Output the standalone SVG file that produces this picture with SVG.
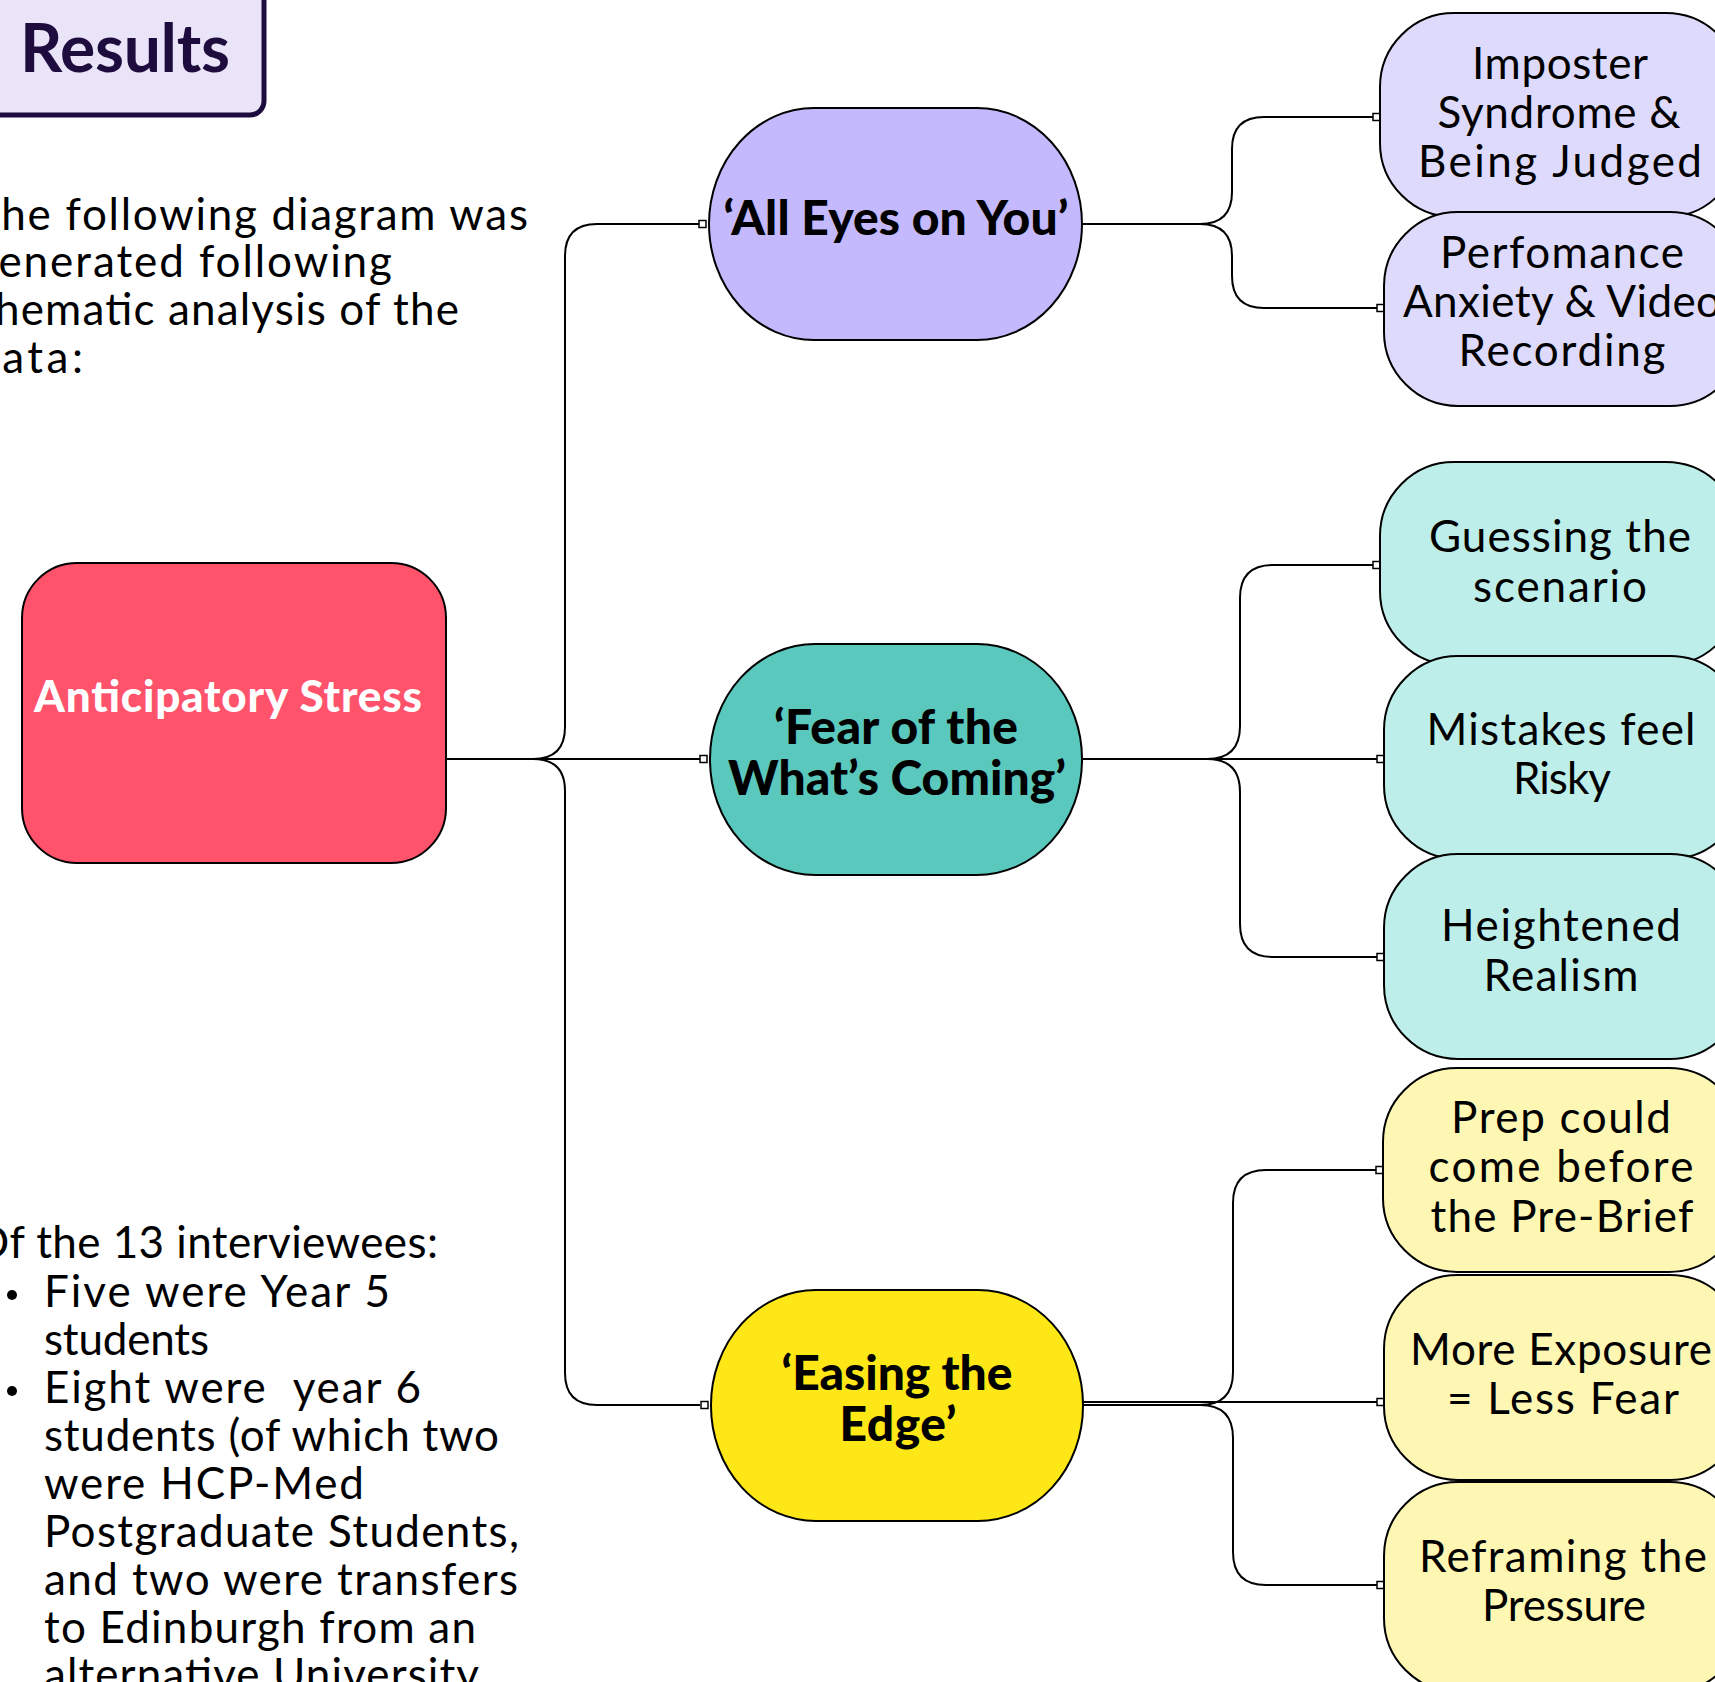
<svg xmlns="http://www.w3.org/2000/svg" width="1715" height="1682" viewBox="0 0 1715 1682">
<style>
  text { font-family: Lato, "Liberation Sans", sans-serif; fill: #000; }
  .body { font-size: 44px; white-space: pre; }
  .child { font-size: 44px; text-anchor: middle; }
  .theme { font-size: 48px; font-weight: 900; text-anchor: middle; }
  .conn { fill: none; stroke: #000; stroke-width: 2; }
  .port { fill: #fff; stroke: #000; stroke-width: 1.5; }
  .node { stroke: #000; stroke-width: 2; }
  .purple { fill: #DEDAFB; }
  .teal { fill: #BDEEE9; }
  .yellow { fill: #FEF7B4; }
</style>

<g id="results">
  <rect x="-20" y="-20" width="284" height="135" rx="14" fill="#E9E4F8" stroke="#1E0C3F" stroke-width="5"/>
  <text x="20" y="72" font-size="66" font-weight="700" style="fill:#1E0C3F" textLength="210">Results</text>
</g>

<g id="intro-text">
  <text class="body" x="-26" y="230" textLength="554">The following diagram was</text>
  <text class="body" x="-26" y="277" textLength="418">generated following</text>
  <text class="body" x="-22" y="325" textLength="481">thematic analysis of the</text>
  <text class="body" x="-26" y="373" textLength="109">data:</text>
</g>

<g id="interviewees-text">
  <text class="body" x="-26" y="1258" textLength="464">Of the 13 interviewees:</text>
  <circle cx="12" cy="1295" r="5" fill="#000"/>
  <text class="body" x="44" y="1307" textLength="346">Five were Year 5</text>
  <text class="body" x="44" y="1355" textLength="165">students</text>
  <circle cx="12" cy="1391" r="5" fill="#000"/>
  <text class="body" x="44" y="1403" textLength="377">Eight were  year 6</text>
  <text class="body" x="44" y="1451" textLength="455">students (of which two</text>
  <text class="body" x="44" y="1499" textLength="320">were HCP-Med</text>
  <text class="body" x="44" y="1547" textLength="475">Postgraduate Students,</text>
  <text class="body" x="44" y="1595" textLength="474">and two were transfers</text>
  <text class="body" x="44" y="1643" textLength="432">to Edinburgh from an</text>
  <text class="body" x="44" y="1690" textLength="435">alternative University</text>
</g>

<g id="connectors">
  <!-- from Anticipatory Stress -->
  <path class="conn" d="M 446 759 H 700"/>
  <path class="conn" d="M 533 759 Q 565 759 565 727 V 256 Q 565 224 597 224 H 700"/>
  <path class="conn" d="M 533 759 Q 565 759 565 791 V 1373 Q 565 1405 597 1405 H 700"/>
  <rect class="port" x="699" y="220.5" width="7" height="7"/>
  <rect class="port" x="700" y="755.5" width="7" height="7"/>
  <rect class="port" x="701" y="1401.5" width="7" height="7"/>
  <!-- from All Eyes on You -->
  <path class="conn" d="M 1082 224 H 1200"/>
  <path class="conn" d="M 1200 224 Q 1232 224 1232 192 V 149 Q 1232 117 1264 117 H 1374"/>
  <path class="conn" d="M 1200 224 Q 1232 224 1232 256 V 276 Q 1232 308 1264 308 H 1377"/>
  <rect class="port" x="1373" y="113.5" width="7" height="7"/>
  <rect class="port" x="1377" y="304.5" width="7" height="7"/>
  <!-- from Fear of the What's Coming -->
  <path class="conn" d="M 1082 759 H 1377"/>
  <path class="conn" d="M 1207 759 Q 1240 759 1240 726 V 598 Q 1240 565 1273 565 H 1374"/>
  <path class="conn" d="M 1207 759 Q 1240 759 1240 792 V 924 Q 1240 957 1273 957 H 1377"/>
  <rect class="port" x="1373" y="561.5" width="7" height="7"/>
  <rect class="port" x="1377" y="755.5" width="7" height="7"/>
  <rect class="port" x="1377" y="953.5" width="7" height="7"/>
  <!-- from Easing the Edge -->
  <path class="conn" d="M 1082 1405 H 1200"/>
  <path class="conn" d="M 1082 1402 H 1377"/>
  <path class="conn" d="M 1200 1405 Q 1233 1405 1233 1372 V 1203 Q 1233 1170 1266 1170 H 1376"/>
  <path class="conn" d="M 1200 1405 Q 1233 1405 1233 1438 V 1552 Q 1233 1585 1266 1585 H 1377"/>
  <rect class="port" x="1376" y="1166.5" width="7" height="7"/>
  <rect class="port" x="1377" y="1398.5" width="7" height="7"/>
  <rect class="port" x="1377" y="1581.5" width="7" height="7"/>
</g>

<g id="node-anticipatory-stress">
  <rect class="node" x="22" y="563" width="424" height="300" rx="55" fill="#FF526B"/>
  <text x="228" y="712" font-size="44" font-weight="900" text-anchor="middle" style="fill:#fff" textLength="388">Anticipatory Stress</text>
</g>

<g id="node-all-eyes">
  <rect class="node" x="709" y="108" width="373" height="232" rx="105" ry="116" fill="#C4B9FD"/>
  <text class="theme" x="896" y="235" textLength="345">‘All Eyes on You’</text>
</g>

<g id="node-fear">
  <rect class="node" x="710" y="644" width="372" height="231" rx="105" ry="115" fill="#5BC8BE"/>
  <text class="theme" x="896" y="744" textLength="244">‘Fear of the</text>
  <text class="theme" x="897" y="795" textLength="338">What’s Coming’</text>
</g>

<g id="node-easing">
  <rect class="node" x="711" y="1290" width="372" height="231" rx="105" ry="115" fill="#FEE716"/>
  <text class="theme" x="897" y="1390" textLength="231">‘Easing the</text>
  <text class="theme" x="898" y="1441" textLength="117">Edge’</text>
</g>

<g id="node-imposter">
  <rect class="node purple" x="1380" y="13" width="360" height="204" rx="74"/>
  <text class="child" x="1560" y="79" textLength="176">Imposter</text>
  <text class="child" x="1559" y="128" textLength="243">Syndrome &amp;</text>
  <text class="child" x="1560" y="177" textLength="284">Being Judged</text>
</g>

<g id="node-performance">
  <rect class="node purple" x="1384" y="212" width="360" height="194" rx="74"/>
  <text class="child" x="1562" y="268" textLength="244">Perfomance</text>
  <text class="child" x="1562" y="317" textLength="318">Anxiety &amp; Video</text>
  <text class="child" x="1562" y="366" textLength="207">Recording</text>
</g>

<g id="node-guessing">
  <rect class="node teal" x="1380" y="462" width="360" height="203" rx="74"/>
  <text class="child" x="1560" y="552" textLength="262">Guessing the</text>
  <text class="child" x="1560" y="602" textLength="174">scenario</text>
</g>

<g id="node-mistakes">
  <rect class="node teal" x="1384" y="656" width="360" height="203" rx="74"/>
  <text class="child" x="1561" y="745" textLength="269">Mistakes feel</text>
  <text class="child" x="1562" y="794" textLength="98">Risky</text>
</g>

<g id="node-heightened">
  <rect class="node teal" x="1384" y="854" width="360" height="205" rx="74"/>
  <text class="child" x="1561" y="941" textLength="240">Heightened</text>
  <text class="child" x="1561" y="991" textLength="155">Realism</text>
</g>

<g id="node-prep">
  <rect class="node yellow" x="1383" y="1068" width="360" height="204" rx="74"/>
  <text class="child" x="1561" y="1133" textLength="220">Prep could</text>
  <text class="child" x="1561" y="1182" textLength="265">come before</text>
  <text class="child" x="1562" y="1232" textLength="263">the Pre-Brief</text>
</g>

<g id="node-exposure">
  <rect class="node yellow" x="1384" y="1275" width="360" height="205" rx="74"/>
  <text class="child" x="1561" y="1365" textLength="302">More Exposure</text>
  <text class="child" x="1563" y="1414" textLength="232">= Less Fear</text>
</g>

<g id="node-reframing">
  <rect class="node yellow" x="1384" y="1482" width="360" height="210" rx="74"/>
  <text class="child" x="1563" y="1572" textLength="288">Reframing the</text>
  <text class="child" x="1564" y="1621" textLength="164">Pressure</text>
</g>
</svg>
